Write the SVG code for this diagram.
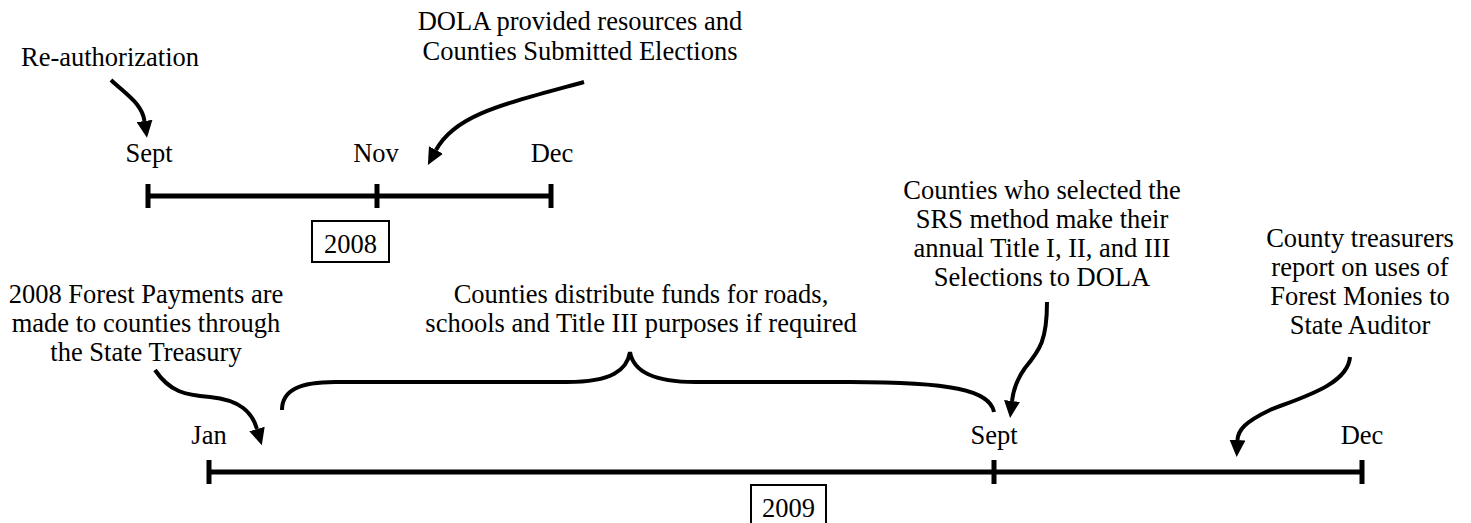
<svg xmlns="http://www.w3.org/2000/svg" width="1471" height="523" viewBox="0 0 1471 523">
<style>
text{font-family:"Liberation Serif","Times New Roman",serif;font-size:26.5px;fill:#000;text-anchor:middle}
.axis{stroke:#000;stroke-width:5;fill:none}
.box{stroke:#000;stroke-width:2;fill:#fff}
.conn{stroke:#000;stroke-width:4;fill:none}
</style>
<defs>
<marker id="ah" markerUnits="userSpaceOnUse" markerWidth="17" markerHeight="16" viewBox="0 0 17 16" refX="0" refY="8" orient="auto">
<path d="M0,0 L17,8 L0,16 z" fill="#000"/>
</marker>
</defs>
<rect width="1471" height="523" fill="#fff"/>

<g id="timeline2008">
<path class="axis" d="M148,196 H551 M148,184 V208 M377,184 V208 M551,184 V208"/>
<text x="149" y="162">Sept</text>
<text x="376" y="162">Nov</text>
<text x="552" y="162">Dec</text>
</g>
<g id="year2008">
<rect class="box" x="312" y="221" width="77" height="41"/>
<text x="350.5" y="253">2008</text>
</g>

<g id="timeline2009">
<path class="axis" d="M209,472 H1362 M209,460 V484 M994,460 V484 M1362,460 V484"/>
<text x="209" y="444">Jan</text>
<text x="994" y="444">Sept</text>
<text x="1362" y="444">Dec</text>
</g>
<g id="year2009">
<rect class="box" x="751" y="485" width="75" height="41"/>
<text x="788.5" y="517">2009</text>
</g>

<g id="reauth"><text x="110" y="66">Re-authorization</text></g>
<g id="dola">
<text x="580" y="30">DOLA provided resources and</text>
<text x="580" y="60">Counties Submitted Elections</text>
</g>
<g id="forest-payments">
<text x="146" y="303">2008 Forest Payments are</text>
<text x="146" y="332">made to counties through</text>
<text x="146" y="361">the State Treasury</text>
</g>
<g id="distribute">
<text x="641" y="303">Counties distribute funds for roads,</text>
<text x="641" y="332">schools and Title III purposes if required</text>
</g>
<g id="srs">
<text x="1042" y="199">Counties who selected the</text>
<text x="1042" y="228">SRS method make their</text>
<text x="1042" y="257">annual Title I, II, and III</text>
<text x="1042" y="286">Selections to DOLA</text>
</g>
<g id="treasurers">
<text x="1360" y="247">County treasurers</text>
<text x="1360" y="276">report on uses of</text>
<text x="1360" y="305">Forest Monies to</text>
<text x="1360" y="334">State Auditor</text>
</g>

<g id="connectors">
<path class="conn" marker-end="url(#ah)" d="M111,80 C128,96 142,104 144.5,121"/>
<path class="conn" marker-end="url(#ah)" d="M584,82 C500,105 455,115 436,150"/>
<path class="conn" marker-end="url(#ah)" d="M155,370 C170,392 185,395 210,397 C240,400 252,412 257,429"/>
<path class="conn" marker-end="url(#ah)" d="M1047,302 C1047,340 1040,350 1025,368 C1015,382 1013,392 1012,401"/>
<path class="conn" marker-end="url(#ah)" d="M1350,357 C1348,385 1300,398 1270,410 C1245,422 1238,430 1237.5,440"/>
<path class="conn" d="M282,410 C282,390 300,382 335,382 L567,382 C612,382 627,370 630,352 C633,370 650,382 695,382 L850,382 C950,382 990,390 994,412"/>
</g>
</svg>
